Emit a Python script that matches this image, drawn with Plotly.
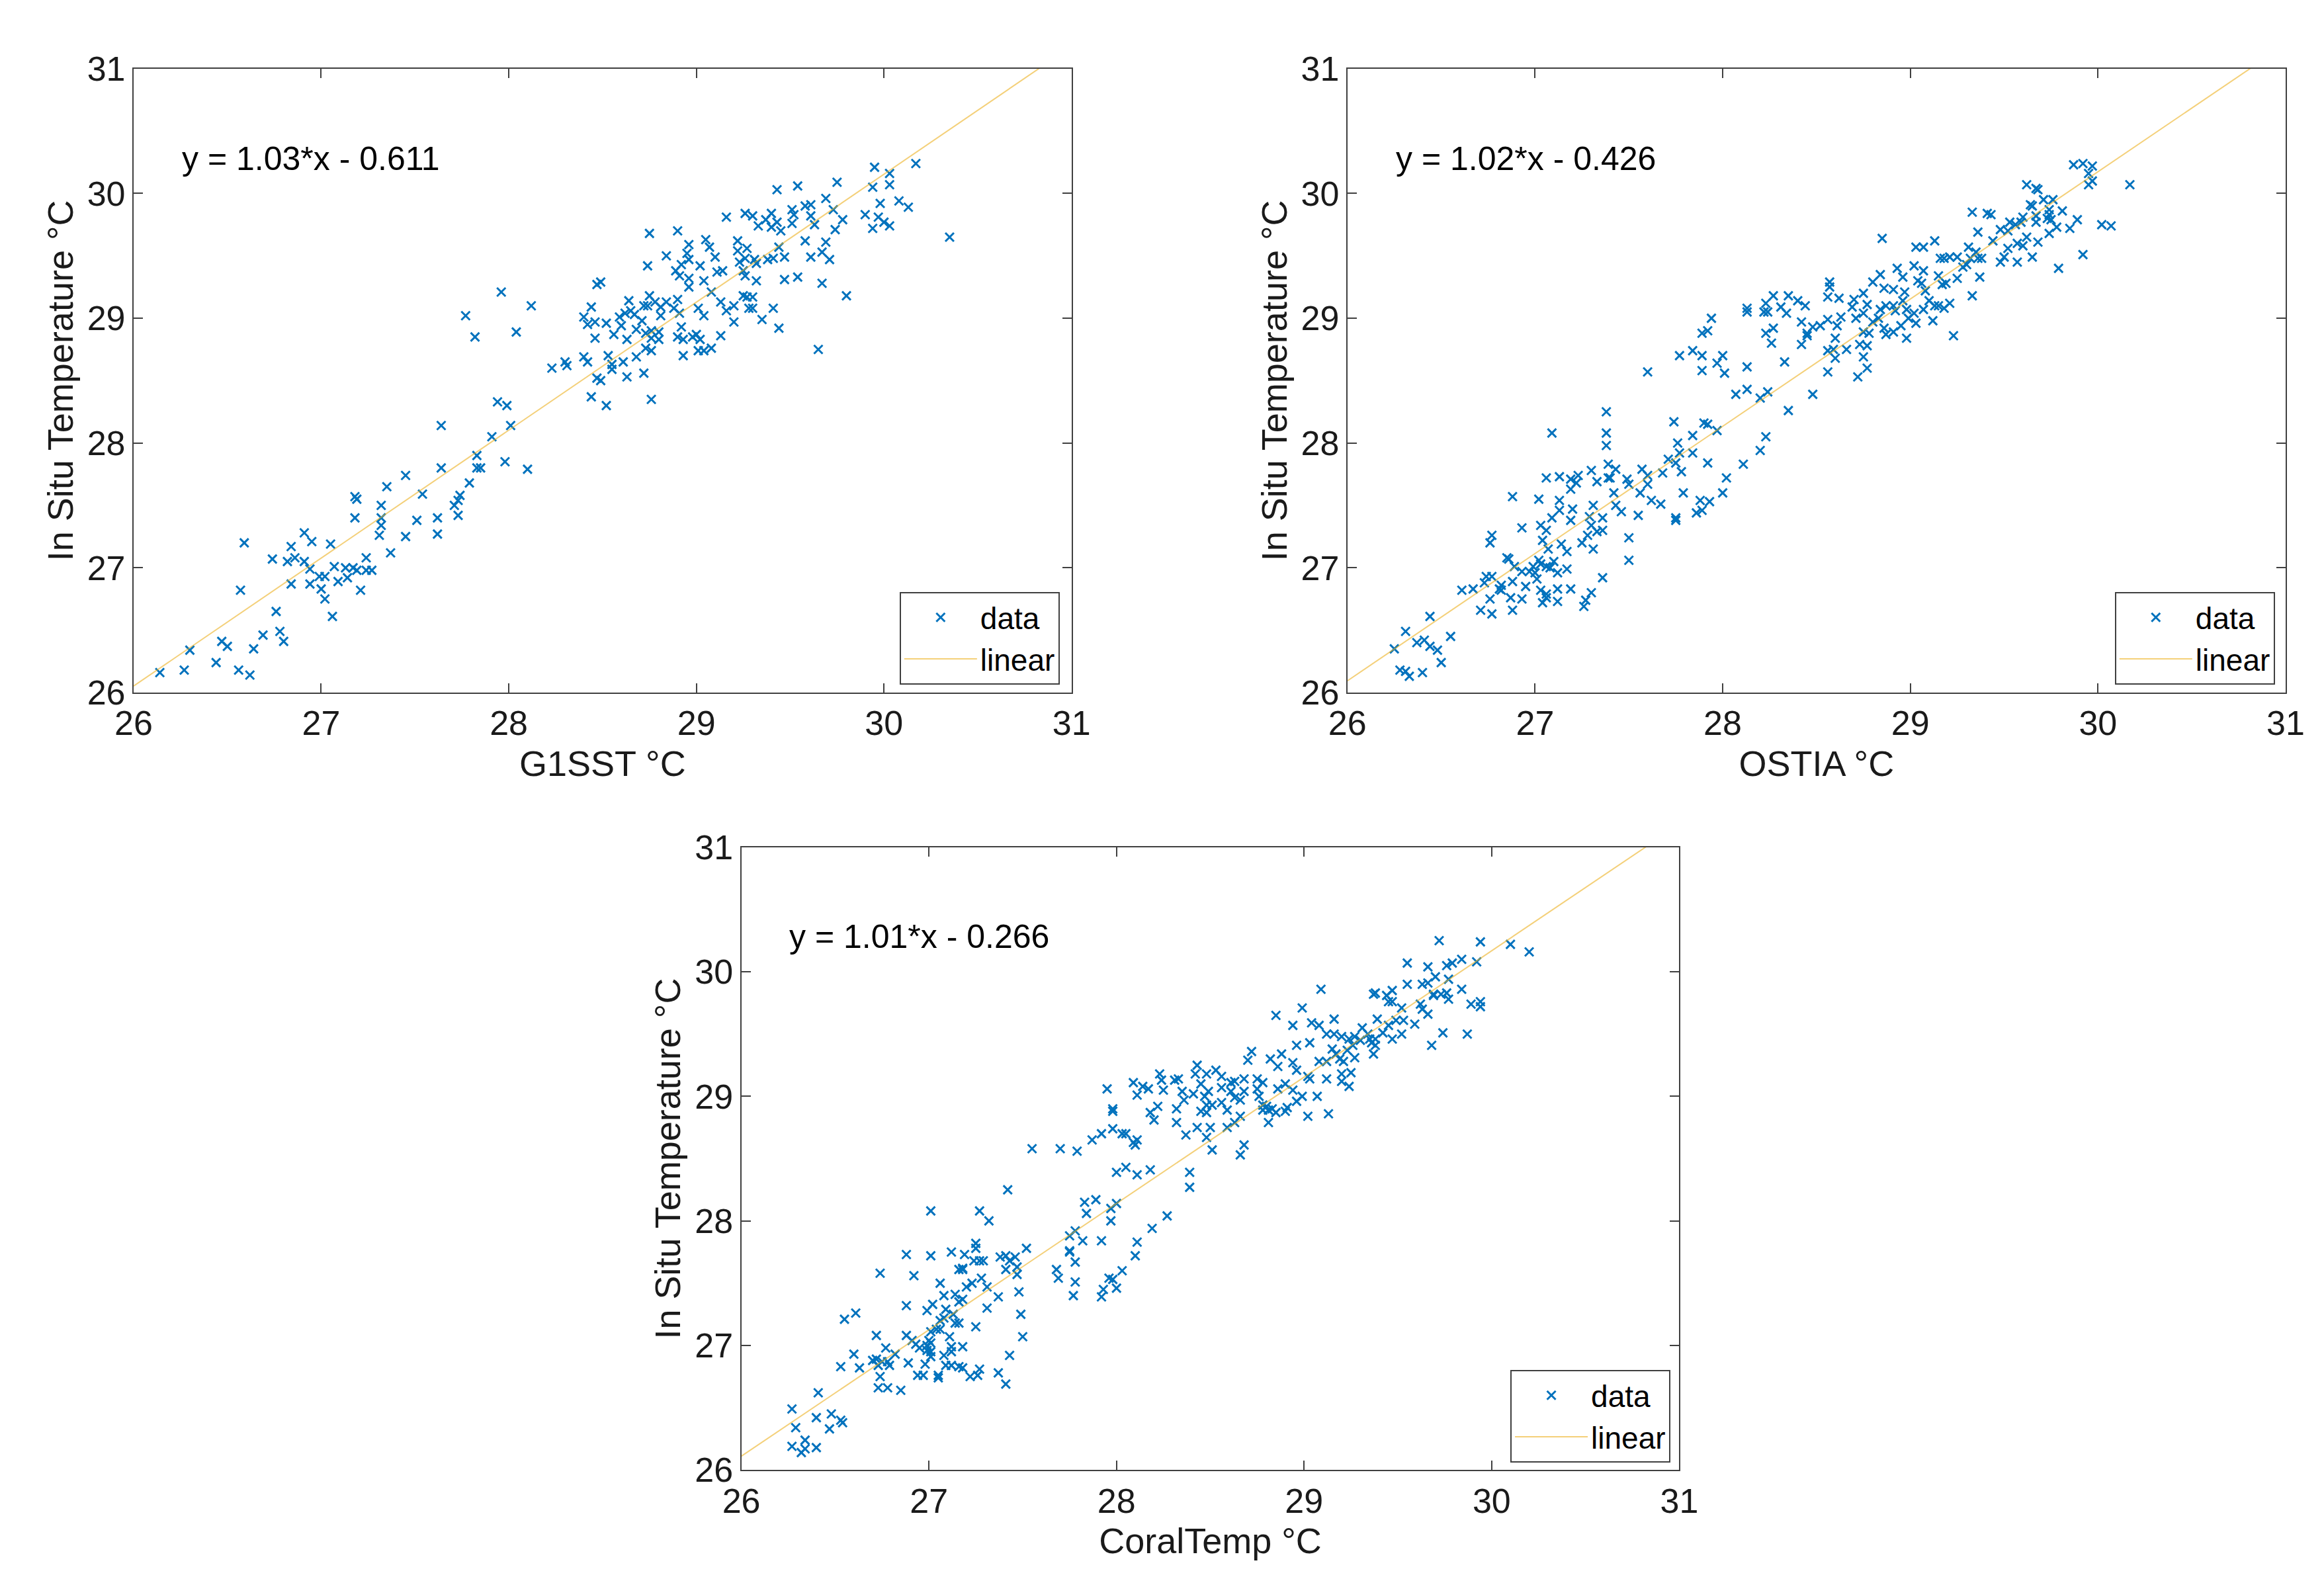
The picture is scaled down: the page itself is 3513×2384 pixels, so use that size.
import plotly.graph_objects as go

# ---- data (x = satellite SST, y = in situ, deg C) ----
g1sst_pts = [
    (26.14, 26.16), (26.27, 26.18), (26.30, 26.34), (26.44, 26.24), (26.47, 26.41), (26.50, 26.37),
    (26.56, 26.18), (26.62, 26.14), (26.64, 26.35), (26.69, 26.46), (26.78, 26.49), (26.80, 26.41),
    (26.76, 26.65), (26.57, 26.82), (26.59, 27.20), (26.74, 27.07), (26.82, 27.05), (26.86, 27.08),
    (26.91, 27.05), (26.84, 27.17), (26.91, 27.28), (26.95, 27.21), (27.05, 27.19), (26.94, 26.99),
    (26.84, 26.87), (26.94, 26.87), (27.00, 26.83), (26.99, 26.93), (27.02, 26.93), (27.02, 26.75),
    (27.06, 26.61), (27.07, 27.01), (27.13, 27.00), (27.17, 27.00), (27.19, 26.98), (27.14, 26.92),
    (27.09, 26.89), (27.24, 27.08), (27.24, 26.98), (27.27, 26.98), (27.21, 26.82), (27.18, 27.57),
    (27.19, 27.55), (27.18, 27.40), (27.32, 27.50), (27.32, 27.40), (27.32, 27.34), (27.31, 27.26),
    (27.35, 27.65), (27.45, 27.74), (27.45, 27.25), (27.37, 27.12), (27.51, 27.38), (27.54, 27.59),
    (27.62, 27.27), (27.62, 27.40), (27.73, 27.42), (27.71, 27.50), (27.73, 27.54), (27.74, 27.58),
    (27.79, 27.68), (27.64, 27.80), (27.83, 27.80), (27.85, 27.80), (27.83, 27.90), (27.98, 27.85),
    (28.10, 27.79), (27.91, 28.05), (28.01, 28.14), (27.64, 28.14), (27.94, 28.33), (27.99, 28.30),
    (27.77, 29.02), (27.82, 28.85), (27.96, 29.21), (28.12, 29.10), (28.04, 28.89), (28.23, 28.60),
    (28.30, 28.65), (28.31, 28.62), (28.40, 28.69), (28.42, 28.65), (28.53, 28.70), (28.55, 28.63),
    (28.55, 28.59), (28.61, 28.65), (28.68, 28.69), (28.63, 28.53), (28.72, 28.56), (28.47, 28.52),
    (28.49, 28.50), (28.44, 28.37), (28.52, 28.30), (28.76, 28.35), (28.46, 28.84), (28.44, 29.09),
    (28.40, 29.01), (28.42, 28.95), (28.46, 28.97), (28.52, 28.96), (28.56, 28.87), (28.63, 28.83),
    (28.59, 29.01), (28.60, 28.94), (28.62, 29.04), (28.64, 29.14), (28.65, 29.06), (28.67, 29.03),
    (28.71, 28.98), (28.68, 28.91), (28.72, 29.10), (28.75, 29.18), (28.74, 29.10), (28.76, 28.90),
    (28.73, 28.88), (28.76, 28.84), (28.80, 28.89), (28.80, 28.83), (28.73, 28.76), (28.76, 28.74),
    (28.78, 29.13), (28.81, 29.09), (28.84, 29.13), (28.81, 29.02), (28.88, 29.08), (28.90, 29.15),
    (28.91, 29.04), (28.92, 28.93), (28.90, 28.85), (28.93, 28.83), (28.98, 28.85), (29.00, 28.87),
    (29.02, 28.83), (29.01, 28.74), (29.04, 28.74), (28.93, 28.70), (29.01, 29.08), (29.04, 29.02),
    (28.75, 29.68), (28.90, 29.70), (28.74, 29.42), (28.84, 29.50), (28.96, 29.59), (28.95, 29.52),
    (28.96, 29.47), (28.92, 29.43), (28.89, 29.38), (28.91, 29.34), (28.96, 29.32), (28.96, 29.25),
    (29.02, 29.42), (29.04, 29.30), (28.49, 29.29), (28.47, 29.27), (29.05, 29.63),
    (29.07, 29.57), (29.10, 29.49), (29.08, 29.21), (29.13, 29.13), (29.16, 29.06), (29.20, 29.10),
    (29.20, 28.97), (29.13, 28.86), (29.08, 28.76), (29.11, 29.37), (29.14, 29.38), (29.16, 29.81),
    (29.22, 29.62), (29.22, 29.54), (29.27, 29.56), (29.26, 29.48), (29.23, 29.45), (29.25, 29.38),
    (29.26, 29.34), (29.31, 29.47), (29.32, 29.44), (29.32, 29.30), (29.38, 29.47), (29.41, 29.48),
    (29.44, 29.57), (29.47, 29.49), (29.47, 29.31), (29.54, 29.33), (29.44, 28.92), (29.41, 29.08),
    (29.35, 28.99), (29.30, 29.08), (29.28, 29.08), (29.27, 29.17), (29.25, 29.18), (29.30, 29.17),
    (29.26, 29.84), (29.30, 29.82), (29.33, 29.74), (29.37, 29.79), (29.40, 29.84), (29.40, 29.73),
    (29.43, 29.77), (29.45, 29.70), (29.51, 29.87), (29.52, 29.83), (29.51, 29.76), (29.43, 30.03),
    (29.54, 30.06), (29.58, 29.90), (29.61, 29.91), (29.61, 29.82), (29.58, 29.62), (29.63, 29.75),
    (29.69, 29.96), (29.69, 29.61), (29.67, 29.53), (29.61, 29.49), (29.71, 29.47), (29.67, 29.28),
    (29.80, 29.18), (29.65, 28.75), (29.75, 30.09), (29.73, 29.87), (29.74, 29.71), (29.78, 29.79),
    (29.90, 29.83), (29.94, 29.72), (29.97, 29.81), (30.00, 29.77), (30.03, 29.74), (29.98, 29.92),
    (30.08, 29.94), (30.13, 29.89), (29.95, 30.21), (29.94, 30.05), (30.03, 30.16), (30.03, 30.07),
    (30.17, 30.24), (30.35, 29.65),
]

ostia_pts = [
    (26.25, 26.35), (26.28, 26.18), (26.31, 26.17), (26.33, 26.13), (26.40, 26.16), (26.31, 26.49),
    (26.37, 26.40), (26.41, 26.42), (26.44, 26.37), (26.48, 26.34), (26.50, 26.24), (26.55, 26.45),
    (26.44, 26.61), (26.61, 26.82), (26.67, 26.83), (26.71, 26.66), (26.77, 26.63), (26.76, 26.75),
    (26.73, 26.88), (26.74, 26.93), (26.77, 26.93), (26.82, 26.86), (26.82, 26.82), (26.81, 26.83),
    (26.87, 26.76), (26.88, 26.89), (26.88, 26.66), (26.93, 26.75), (26.95, 26.85), (26.85, 27.08),
    (26.86, 27.07), (26.89, 27.01), (26.93, 26.97), (26.97, 26.97), (26.99, 27.01), (27.00, 26.96),
    (27.01, 26.91), (27.02, 27.06), (27.03, 27.03), (27.06, 27.01), (27.08, 27.00), (27.10, 27.05),
    (27.12, 26.96), (27.17, 26.99), (27.03, 26.82), (27.06, 26.79), (27.06, 26.76), (27.04, 26.72),
    (27.12, 26.83), (27.19, 26.83), (27.12, 26.73), (27.26, 26.69), (27.27, 26.74), (27.30, 26.80),
    (27.36, 26.92), (27.04, 27.22), (27.07, 27.15), (27.14, 27.19), (27.17, 27.13), (27.13, 27.54),
    (27.03, 27.34), (27.06, 27.30), (27.09, 27.40), (27.13, 27.46), (27.20, 27.47), (27.19, 27.38),
    (27.25, 27.20), (27.28, 27.26), (27.29, 27.41), (27.30, 27.34), (27.33, 27.29), (27.36, 27.30),
    (27.36, 27.40), (27.31, 27.15), (27.31, 27.50), (27.43, 27.50), (27.46, 27.45), (27.50, 27.24),
    (27.50, 27.06), (27.42, 27.60), (27.39, 27.72), (27.40, 27.72), (27.43, 27.79), (27.39, 27.83),
    (27.49, 27.71), (27.50, 27.67), (27.33, 27.69), (27.30, 27.78), (27.23, 27.74), (27.22, 27.68),
    (27.19, 27.63), (27.19, 27.71), (27.13, 27.73), (27.06, 27.72), (27.02, 27.55), (26.93, 27.32),
    (26.88, 27.57), (26.77, 27.26), (26.76, 27.20), (27.09, 28.08), (27.38, 28.25), (27.38, 28.08),
    (27.38, 27.98), (27.55, 27.42),
    (27.57, 27.79), (27.60, 27.74), (27.60, 27.67), (27.68, 27.76), (27.56, 27.60), (27.62, 27.54),
    (27.67, 27.51), (27.75, 27.84), (27.71, 27.87), (27.77, 27.92), (27.76, 28.00), (27.78, 27.77),
    (27.84, 27.92), (27.84, 28.06), (27.79, 27.60), (27.75, 27.40), (27.75, 27.38), (27.86, 27.44),
    (27.89, 27.46), (27.88, 27.54), (27.93, 27.53), (28.00, 27.60), (28.02, 27.72), (27.92, 27.84),
    (27.97, 28.10), (27.92, 28.15), (27.90, 28.16), (27.74, 28.17), (28.11, 27.83), (28.20, 27.94),
    (28.23, 28.05), (28.07, 28.39), (28.13, 28.43), (28.20, 28.36), (28.24, 28.41), (28.35, 28.26),
    (28.48, 28.39), (28.33, 28.65), (28.13, 28.61), (27.60, 28.57), (27.77, 28.70), (27.84, 28.74),
    (27.89, 28.70), (27.89, 28.58), (27.97, 28.64), (28.00, 28.70), (28.01, 28.56), (27.89, 28.88),
    (27.92, 28.90), (27.94, 29.00), (28.13, 29.08), (28.13, 29.05), (28.23, 29.12), (28.22, 29.05),
    (28.24, 29.05), (28.27, 29.18), (28.31, 29.09), (28.34, 29.04), (28.35, 29.18), (28.40, 29.14),
    (28.44, 29.10), (28.23, 28.88), (28.27, 28.92), (28.26, 28.80), (28.42, 28.97), (28.45, 28.88),
    (28.45, 28.86), (28.42, 28.79), (28.48, 28.93), (28.52, 28.94), (28.56, 28.99), (28.61, 28.94),
    (28.63, 29.01), (28.60, 28.84), (28.57, 29.29), (28.57, 29.25), (28.56, 29.17), (28.62, 29.16),
    (28.56, 28.74), (28.59, 28.75), (28.60, 28.68), (28.56, 28.57), (28.66, 28.75), (28.72, 28.53),
    (28.77, 28.60), (28.75, 28.69), (28.73, 28.79), (28.77, 28.78), (28.75, 28.89), (28.78, 28.88),
    (28.80, 28.97), (28.83, 29.00), (28.86, 28.92), (28.87, 28.87), (28.91, 28.89), (28.95, 28.94),
    (28.98, 28.84), (28.84, 29.07), (28.87, 29.10), (28.92, 29.06), (28.91, 29.10), (28.96, 29.14),
    (28.98, 29.07), (29.02, 29.04), (28.99, 29.00), (29.03, 28.96), (28.77, 29.11), (28.71, 29.00),
    (28.70, 29.15), (28.69, 29.09), (28.75, 29.04), (28.75, 29.20), (28.86, 29.24), (28.91, 29.23),
    (28.97, 29.21), (28.80, 29.29), (28.84, 29.35), (28.93, 29.40), (28.96, 29.33), (29.02, 29.42),
    (29.03, 29.57), (28.85, 29.64), (29.04, 29.30),
    (29.07, 29.38), (29.06, 29.28), (29.08, 29.22), (29.10, 29.14), (29.13, 29.10), (29.15, 29.10),
    (29.18, 29.08), (29.21, 29.12), (29.12, 28.98), (29.07, 29.07), (29.23, 28.86), (29.33, 29.18),
    (29.15, 29.34), (29.17, 29.27), (29.19, 29.28), (29.25, 29.32), (29.16, 29.48), (29.18, 29.48),
    (29.21, 29.49), (29.25, 29.49), (29.28, 29.41), (29.30, 29.43), (29.32, 29.48), (29.35, 29.53),
    (29.36, 29.48), (29.38, 29.48), (29.37, 29.33), (29.31, 29.57), (29.13, 29.62), (29.07, 29.57),
    (29.48, 29.45), (29.50, 29.49), (29.57, 29.45), (29.52, 29.56), (29.57, 29.60), (29.60, 29.58),
    (29.62, 29.65), (29.68, 29.61), (29.65, 29.49), (29.79, 29.40), (29.92, 29.51), (29.44, 29.62),
    (29.36, 29.69), (29.48, 29.71), (29.52, 29.70), (29.53, 29.77), (29.56, 29.75), (29.59, 29.77),
    (29.60, 29.81), (29.33, 29.85), (29.41, 29.84), (29.43, 29.83), (29.67, 29.77), (29.67, 29.82),
    (29.71, 29.95), (29.76, 29.95), (29.74, 29.87), (29.74, 29.83), (29.73, 29.80), (29.75, 29.79),
    (29.78, 29.73), (29.81, 29.86), (29.74, 29.68), (29.85, 29.72), (29.89, 29.79), (29.64, 29.91),
    (29.65, 29.90), (29.62, 30.07), (29.67, 30.04), (29.68, 30.03), (29.87, 30.23), (29.92, 30.24),
    (29.97, 30.22), (29.95, 30.16), (29.97, 30.10), (29.95, 30.07), (30.02, 29.75), (30.07, 29.74),
    (30.17, 30.07),
]

coraltemp_pts = [
    (26.27, 26.49), (26.29, 26.34), (26.27, 26.19), (26.32, 26.14), (26.34, 26.24), (26.34, 26.17),
    (26.40, 26.18), (26.40, 26.42), (26.41, 26.62), (26.47, 26.33), (26.48, 26.45), (26.53, 26.40),
    (26.54, 26.38), (26.53, 26.83), (26.55, 27.21), (26.61, 27.26), (26.60, 26.93), (26.63, 26.82),
    (26.72, 27.08), (26.70, 26.88), (26.72, 26.89), (26.73, 26.84), (26.74, 26.75), (26.73, 26.66),
    (26.78, 26.66), (26.85, 26.64), (26.77, 26.98), (26.75, 26.87), (26.78, 26.87), (26.79, 26.84),
    (26.82, 26.93), (26.89, 26.86), (26.74, 27.58), (26.88, 27.73), (26.92, 27.56), (27.01, 28.08),
    (27.01, 27.72), (26.88, 27.32), (26.88, 27.08), (26.91, 27.04), (26.93, 27.01), (26.95, 26.98),
    (26.99, 26.96), (26.99, 27.00), (27.00, 27.04), (27.01, 27.02), (27.01, 26.95), (27.01, 26.91),
    (26.98, 26.85), (26.94, 26.76), (26.97, 26.76), (27.05, 26.74), (27.05, 26.76), (27.08, 26.92),
    (27.09, 26.84), (27.12, 26.84), (27.16, 26.83), (27.18, 26.82), (27.22, 26.75), (27.26, 26.76),
    (27.27, 26.81), (27.37, 26.78), (27.41, 26.69), (27.43, 26.92), (27.11, 27.07), (27.12, 26.99),
    (27.12, 26.95), (27.18, 26.99), (26.99, 27.28), (27.02, 27.33), (27.01, 27.11), (27.04, 27.13),
    (27.06, 27.13), (27.06, 27.20), (27.08, 27.22), (27.09, 27.29), (27.13, 27.25), (27.14, 27.18),
    (27.16, 27.18), (27.25, 27.15), (27.31, 27.30), (27.37, 27.39), (27.48, 27.43), (27.49, 27.25),
    (27.50, 27.07), (27.08, 27.40), (27.14, 27.41), (27.16, 27.35), (27.18, 27.37), (27.20, 27.47),
    (27.23, 27.50), (27.28, 27.54), (27.31, 27.47), (27.06, 27.50), (27.16, 27.61), (27.18, 27.61),
    (27.18, 27.62), (27.19, 27.73), (27.12, 27.75), (27.24, 27.68), (27.27, 27.68), (27.29, 27.68),
    (27.25, 27.82), (27.25, 27.78), (27.38, 27.71), (27.41, 27.72), (27.43, 27.68), (27.46, 27.71),
    (27.41, 27.61), (27.47, 27.63), (27.47, 27.57), (27.52, 27.78), (27.27, 28.08), (27.32, 28.00),
    (27.42, 28.25),
    (27.55, 28.58), (27.70, 28.58), (27.79, 28.56), (27.87, 28.65), (27.92, 28.70), (27.98, 28.74),
    (27.98, 28.88), (27.98, 28.90), (27.95, 29.06), (28.03, 28.70), (28.05, 28.70), (28.11, 28.65),
    (28.10, 28.61), (28.09, 28.63), (28.00, 28.39), (28.05, 28.43), (28.11, 28.37), (28.18, 28.41),
    (28.39, 28.39), (28.39, 28.27), (27.83, 28.15), (27.89, 28.17), (27.84, 28.06), (27.97, 28.10),
    (28.00, 28.14), (27.97, 28.00), (27.78, 27.92), (27.75, 27.88), (27.82, 27.84), (27.92, 27.84),
    (27.75, 27.76), (27.75, 27.75), (27.78, 27.67), (27.68, 27.61), (27.69, 27.54), (27.78, 27.51),
    (27.77, 27.40), (27.92, 27.39), (27.93, 27.45), (27.96, 27.54), (27.98, 27.53), (28.00, 27.46),
    (28.03, 27.60), (28.10, 27.72), (28.11, 27.83), (28.19, 27.94), (28.27, 28.04), (28.09, 29.11),
    (28.14, 29.08), (28.17, 29.06), (28.11, 29.01), (28.18, 28.87), (28.22, 28.92), (28.20, 28.81),
    (28.23, 29.18), (28.24, 29.13), (28.25, 29.05), (28.31, 29.13), (28.33, 29.14), (28.32, 28.90),
    (28.32, 28.79), (28.35, 29.04), (28.36, 28.97), (28.41, 29.02), (28.37, 28.69), (28.43, 28.75),
    (28.42, 29.18), (28.43, 29.25), (28.48, 29.18), (28.45, 29.10), (28.47, 29.00), (28.49, 29.04),
    (28.48, 28.93), (28.51, 28.93), (28.45, 28.88), (28.48, 28.87), (28.48, 28.67), (28.51, 28.57),
    (28.50, 28.75), (28.53, 29.21), (28.56, 29.16), (28.56, 29.07), (28.56, 28.95), (28.59, 28.89),
    (28.59, 28.75), (28.61, 29.11), (28.63, 29.12), (28.61, 29.04), (28.63, 28.99), (28.66, 28.97),
    (28.68, 29.04), (28.68, 29.14), (28.63, 28.79), (28.66, 28.84), (28.68, 28.61), (28.66, 28.53),
    (28.70, 29.29), (28.72, 29.36), (28.75, 29.14), (28.78, 29.11), (28.75, 29.06), (28.76, 29.00),
    (28.78, 28.93), (28.80, 28.92), (28.81, 28.89), (28.78, 28.89), (28.83, 28.90), (28.85, 28.87),
    (28.81, 28.79), (28.82, 29.30), (28.86, 29.24), (28.88, 29.34), (28.86, 29.06), (28.90, 29.10),
    (28.91, 28.91), (28.90, 28.88), (28.94, 29.05), (28.96, 28.96), (28.99, 29.00), (28.94, 29.27),
    (28.96, 29.21), (28.96, 29.41), (29.02, 28.84), (29.02, 29.16), (29.03, 29.14), (29.03, 29.43),
    (28.85, 29.65), (28.94, 29.57), (28.99, 29.71), (29.04, 29.59),
    (29.09, 29.86), (29.16, 29.62), (29.08, 29.57), (29.12, 29.50), (29.16, 29.50), (29.20, 29.48),
    (29.24, 29.46), (29.27, 29.48), (29.31, 29.55), (29.34, 29.50), (29.36, 29.43), (29.38, 29.41),
    (29.35, 29.46), (29.30, 29.45), (29.26, 29.41), (29.23, 29.37), (29.15, 29.38), (29.17, 29.34),
    (29.19, 29.30), (29.21, 29.28), (29.27, 29.31), (29.08, 29.28), (29.12, 29.28), (29.12, 29.14),
    (29.20, 29.18), (29.20, 29.12), (29.24, 29.08), (29.25, 29.19), (29.07, 29.00), (29.13, 28.86),
    (29.37, 29.34), (29.39, 29.62), (29.38, 29.46), (29.42, 29.51), (29.45, 29.57), (29.47, 29.46),
    (29.49, 29.61), (29.52, 29.50), (29.53, 29.61), (29.59, 29.58), (29.52, 29.71), (29.45, 29.76),
    (29.47, 29.76), (29.44, 29.81), (29.47, 29.85), (29.37, 29.82), (29.38, 29.83), (29.55, 29.90),
    (29.62, 29.74), (29.63, 29.70), (29.66, 29.66), (29.63, 29.90), (29.66, 29.91), (29.69, 29.82),
    (29.69, 29.81), (29.73, 29.82), (29.76, 29.83), (29.77, 29.78), (29.70, 29.96), (29.77, 29.94),
    (29.66, 30.04), (29.55, 30.07), (29.76, 30.05), (29.79, 30.07), (29.84, 30.10), (29.92, 30.08),
    (29.84, 29.86), (29.89, 29.74), (29.94, 29.76), (29.94, 29.72), (29.74, 29.51), (29.87, 29.50),
    (29.68, 29.41), (29.72, 30.25), (29.94, 30.24), (30.10, 30.22), (30.20, 30.16),
]

x_titles = ["G1SST °C", "OSTIA °C", "CoralTemp °C"]
y_title = "In Situ Temperature °C"
equations = ["y = 1.03*x - 0.611", "y = 1.02*x - 0.426", "y = 1.01*x - 0.266"]
fit_slopes = [1.0255, 1.02, 1.0145]
fit_intercepts = [-0.611, -0.426, -0.266]
ticks = [26, 27, 28, 29, 30, 31]
axis_range = [26, 31]

W, H = 3513, 2384
domains = [
    ([0.0552, 0.4588], [0.5642, 0.9598]),
    ([0.5775, 0.9812], [0.5642, 0.9598]),
    ([0.3167, 0.7203], [0.0712, 0.4661]),
]
legend_pos = [(0.4537, 0.5693), (0.9766, 0.5693), (0.7165, 0.0760)]

FONT = "Liberation Sans, Arial, sans-serif"
BLUE = "#0072BD"
GOLD = "#EDB120"
AXC = "#404040"

fig = go.Figure()

series = [g1sst_pts, ostia_pts, coraltemp_pts]
for i, pts in enumerate(series):
    n = "" if i == 0 else str(i + 1)
    xs = [p[0] for p in pts]
    ys = [p[1] for p in pts]
    leg = "legend" + n

    fig.add_trace(go.Scatter(
        x=xs, y=ys, mode="markers", name="data",
        marker=dict(symbol="x-thin", size=13, color=BLUE,
                    line=dict(width=3, color=BLUE)),
        xaxis="x" + n, yaxis="y" + n, legend=leg,
    ))
    fx = axis_range
    fy = [fit_slopes[i] * v + fit_intercepts[i] for v in fx]
    fig.add_trace(go.Scatter(
        x=fx, y=fy, mode="lines", name="linear",
        line=dict(color=GOLD, width=2), opacity=0.6,
        xaxis="x" + n, yaxis="y" + n, legend=leg,
    ))

    xd, yd = domains[i]
    common = dict(
        range=axis_range, tickvals=ticks, showgrid=False, zeroline=False,
        showline=True, linecolor=AXC, linewidth=2, mirror="ticks",
        ticks="inside", ticklen=14, tickwidth=2, tickcolor=AXC,
        tickfont=dict(family=FONT, size=52, color="#1a1a1a"),
        automargin=False,
    )
    fig.update_layout({
        "xaxis" + n: dict(common, domain=xd, anchor="y" + n,
                          title=dict(text=x_titles[i], standoff=14,
                                     font=dict(family=FONT, size=54, color="#1a1a1a"))),
        "yaxis" + n: dict(common, domain=yd, anchor="x" + n,
                          title=dict(text=y_title, standoff=4,
                                     font=dict(family=FONT, size=54, color="#1a1a1a"))),
        leg: dict(
            x=legend_pos[i][0], y=legend_pos[i][1], xanchor="right", yanchor="bottom",
            bgcolor="white", bordercolor=AXC, borderwidth=2,
            font=dict(family=FONT, size=46, color="#000000"),
            itemwidth=110, tracegroupgap=0,
        ),
    })

    fig.add_annotation(
        x=26.25, y=30.28, xref="x" + n, yref="y" + n,
        text=equations[i], showarrow=False, xanchor="left", yanchor="middle",
        font=dict(family=FONT, size=50, color="#000000"),
    )

fig.update_layout(
    width=W, height=H,
    margin=dict(l=0, r=0, t=0, b=0),
    paper_bgcolor="white", plot_bgcolor="white",
    showlegend=True,
)

fig.write_html("out.html")
